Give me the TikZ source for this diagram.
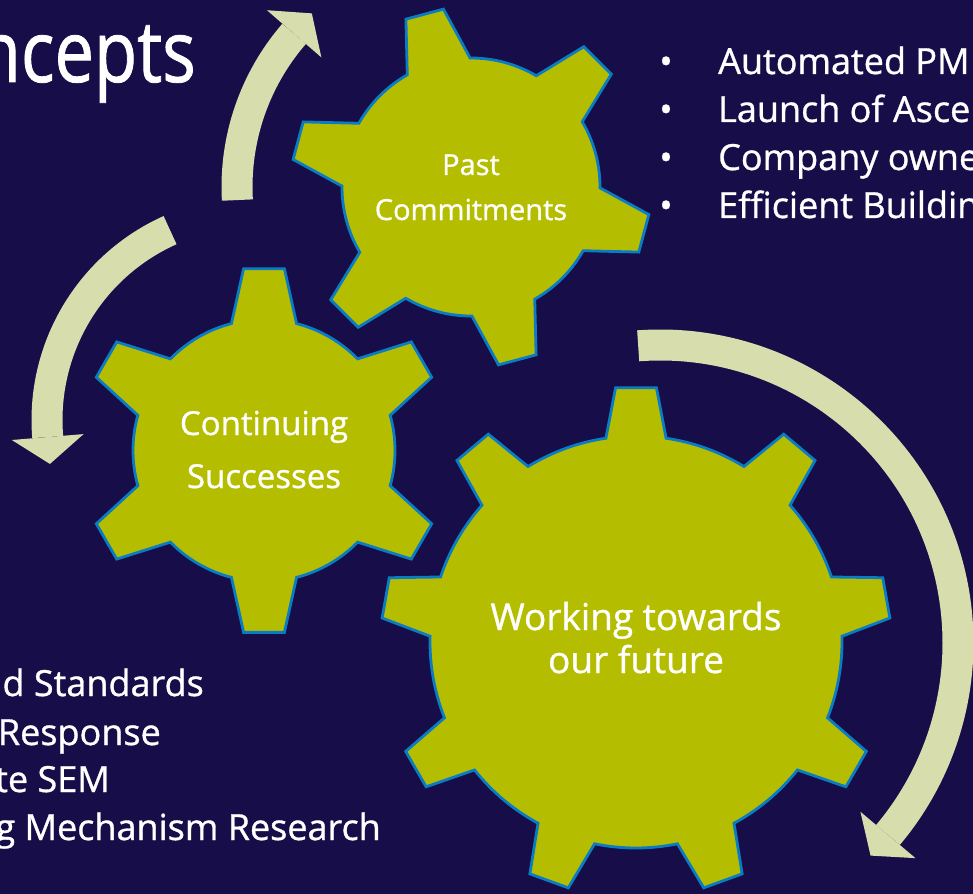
\documentclass[tikz,border=0pt]{standalone}
\usepackage{fontspec}
\setmainfont{Open Sans}[BoldFont={Open Sans},BoldFeatures={FakeBold=0.9}]
\newfontfamily\titlefont{Open Sans}[FakeStretch=0.82,BoldFont={Open Sans},BoldFeatures={FakeStretch=0.82,FakeBold=0.9}]
\usetikzlibrary{calc}
\definecolor{bgnavy}{RGB}{23,13,72}
\definecolor{gearfill}{RGB}{181,189,0}
\definecolor{gearedge}{RGB}{10,124,196}
\definecolor{arrowcol}{RGB}{215,221,172}
\tikzset{
  gearshape/.style={fill=gearfill, draw=gearedge, line width=2.8pt, line join=miter},
  arrowshaft/.style={draw=arrowcol, line width=31pt},
  arrowhd/.style={fill=arrowcol},
  listtext/.style={text=white, inner sep=0pt, font=\fontsize{36}{42}\selectfont\bfseries},
  gearA/.style={text=white, inner sep=0pt, font=\fontsize{29}{35}\selectfont\bfseries},
  gearB/.style={text=white, inner sep=0pt, font=\fontsize{33}{40}\selectfont\bfseries},
  gearC/.style={text=white, inner sep=0pt, font=\fontsize{37}{44}\selectfont\bfseries},
}
% #1 cx, #2 cy, #3 body radius, #4 tip radius, #5 teeth, #6 first tooth angle, #7 base half angle, #8 tip half angle
\newcommand\mygear[8]{%
  \pgfmathsetmacro\gstep{360/#5}
  \begin{scope}[shift={(#1,#2)}]
    \draw[gearshape] (#6-#7:#3)
      \foreach \k [evaluate=\k as \th using #6+(\k-1)*\gstep] in {1,...,#5}{
        -- (\th-#8:#4) -- (\th+#8:#4) -- (\th+#7:#3)
        arc[start angle=\th+#7, end angle=\th+\gstep-#7, radius=#3]
      } -- cycle;
  \end{scope}
}
% #1 center, #2 radius, #3 start angle, #4 end angle, #5 direction (+1/-1)
\newcommand\myarc[5]{%
  \draw[arrowshaft] ($(#1)+(#3:#2)$) arc[start angle=#3, end angle=#4, radius=#2];
  \fill[arrowhd] ($(#1)+(#4:#2-36)$) -- ($(#1)+(#4:#2+36)$)
     -- ($(#1)+(#4:#2)+(#4+#5*90:27)$) -- cycle;
}
\begin{document}
\begin{tikzpicture}[x=1pt, y=-1pt]
  \useasboundingbox (0,0) rectangle (973,893);
  \clip (0,0) rectangle (973,893);
  \fill[bgnavy] (-5,-5) rectangle (978,898);

  % circular arrows
  \coordinate (ca1) at (471,187);
  \coordinate (ca2) at (255,420);
  \coordinate (ca3) at (660,643);
  \myarc{ca1}{234}{176.8}{220.9}{1}
  \myarc{ca2}{208}{245.9}{175.3}{-1}
  \myarc{ca3}{298}{-94.2}{40.1}{1}

  % gears
  \mygear{471}{187}{129}{180}{6}{-105}{14.6}{6.2}
  \mygear{264}{450.5}{131}{183}{6}{-90}{14.4}{6.4}
  \mygear{636}{642}{206}{255}{9}{-90}{8.4}{4.6}

  % gear labels
  \node[gearA, anchor=base] (pa1) at (471,175) {Past};
  \node[gearA, anchor=base] (pa2) at (471,220) {Commitments};
  \node[gearB, anchor=base] (cs1) at (264,435) {Continuing};
  \node[gearB, anchor=base] (cs2) at (264,488) {Successes};
  \node[gearC, anchor=base] (wf1) at (636,630) {Working towards};
  \node[gearC, anchor=base] (wf2) at (636,673) {our future};

  % title
  \node[text=white, inner sep=0pt, anchor=base east, font=\titlefont\fontsize{86}{90}\selectfont\bfseries] (title) at (196,82) {ncepts};

  % right list
  \node[listtext, anchor=base] (rb1) at (666,74) {•};
  \node[listtext, anchor=base] (rb2) at (666,122) {•};
  \node[listtext, anchor=base] (rb3) at (666,170) {•};
  \node[listtext, anchor=base] (rb4) at (666,218) {•};
  \node[listtext, anchor=base west] (rt1) at (718,74) {Automated PM};
  \node[listtext, anchor=base west] (rt2) at (718,122) {Launch of Asce};
  \node[listtext, anchor=base west] (rt3) at (718,170) {Company owne};
  \node[listtext, anchor=base west] (rt4) at (718,218) {Efficient Buildin};

  % left list
  \node[listtext, anchor=base east] (lt1) at (204,696) {d Standards};
  \node[listtext, anchor=base east] (lt2) at (161,745) {Response};
  \node[listtext, anchor=base east] (lt3) at (110,792) {te SEM};
  \node[listtext, anchor=base east] (lt4) at (381,840) {g Mechanism Research};
\end{tikzpicture}
\end{document}
